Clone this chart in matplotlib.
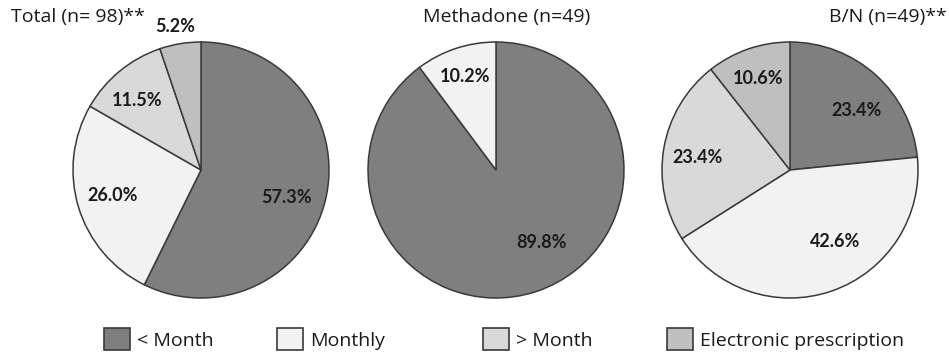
import numpy as np
import matplotlib.pyplot as plt
from matplotlib.patches import Patch

# Prescription frequency by treatment group (percent)
categories = ["< Month", "Monthly", "> Month", "Electronic prescription"]
colors = ["#7f7f7f", "#f2f2f2", "#d9d9d9", "#bfbfbf"]

total_vals = [57.3, 26.0, 11.5, 5.2]
methadone_vals = [89.8, 10.2, 0.0, 0.0]
bn_vals = [23.4, 42.6, 23.4, 10.6]

titles = ["Total (n= 98)**", "Methadone (n=49)", "B/N (n=49)**"]

W, H = 949, 356
fig = plt.figure(figsize=(W / 100, H / 100), dpi=100)

R = 128          # pie radius in pixels
LIM = 1.3        # axis half-range in radius units
centers = [(201, 170), (496, 170), (790, 170)]
# label placement per wedge: (distance in radii, angle nudge in degrees)
label_pos = [
    [(0.70, -5), (0.72, -1), (0.74, 3), (1.14, 1)],
    [(0.67, 14), (0.77, 0)],
    [(0.70, -6), (0.66, 13), (0.73, 2), (0.76, 0)],
]


def add_pie(center, values, placements):
    cx, cy = center
    size = 2 * LIM * R
    ax = fig.add_axes([(cx - size / 2) / W, (H - cy - size / 2) / H, size / W, size / H])
    vals = [v for v in values if v > 0]
    cols = [c for v, c in zip(values, colors) if v > 0]
    wedges, _ = ax.pie(vals, colors=cols, startangle=90, counterclock=False,
                       wedgeprops=dict(edgecolor="#3a3a3a", linewidth=1.1))
    for w, v, (d, nudge) in zip(wedges, vals, placements):
        ang = np.deg2rad((w.theta1 + w.theta2) / 2 + nudge)
        ax.text(d * np.cos(ang), d * np.sin(ang), f"{v:.1f}%", ha="center", va="center",
                fontsize=13, fontweight="bold", family="Lato", color="#1a1a1a",
                clip_on=False)
    ax.set_xlim(-LIM, LIM)
    ax.set_ylim(-LIM, LIM)
    ax.set_aspect("equal")
    ax.axis("off")


for c, v, p in zip(centers, [total_vals, methadone_vals, bn_vals], label_pos):
    add_pie(c, v, p)

title_kw = dict(fontsize=14, family="Open Sans", color="#1a1a1a", va="center")
fig.text(11 / W, 1 - 17 / H, titles[0], ha="left", **title_kw)
fig.text(507 / W, 1 - 17 / H, titles[1], ha="center", **title_kw)
fig.text(947 / W, 1 - 17 / H, titles[2], ha="right", **title_kw)

# legend entries placed individually along the bottom
legend_x = [104, 277, 483, 667]
for x, lab, col in zip(legend_x, categories, colors):
    fig.legend(handles=[Patch(facecolor=col, edgecolor="#3a3a3a", linewidth=1.2)],
               labels=[lab], loc="center left", bbox_to_anchor=(x / W, 1 - 339 / H),
               frameon=False, handlelength=1.35, handleheight=1.3, handletextpad=0.36,
               borderpad=0, borderaxespad=0, labelcolor="#1a1a1a",
               prop=dict(family="Open Sans", size=14))

fig.savefig("out.png", dpi=100, facecolor="white")
